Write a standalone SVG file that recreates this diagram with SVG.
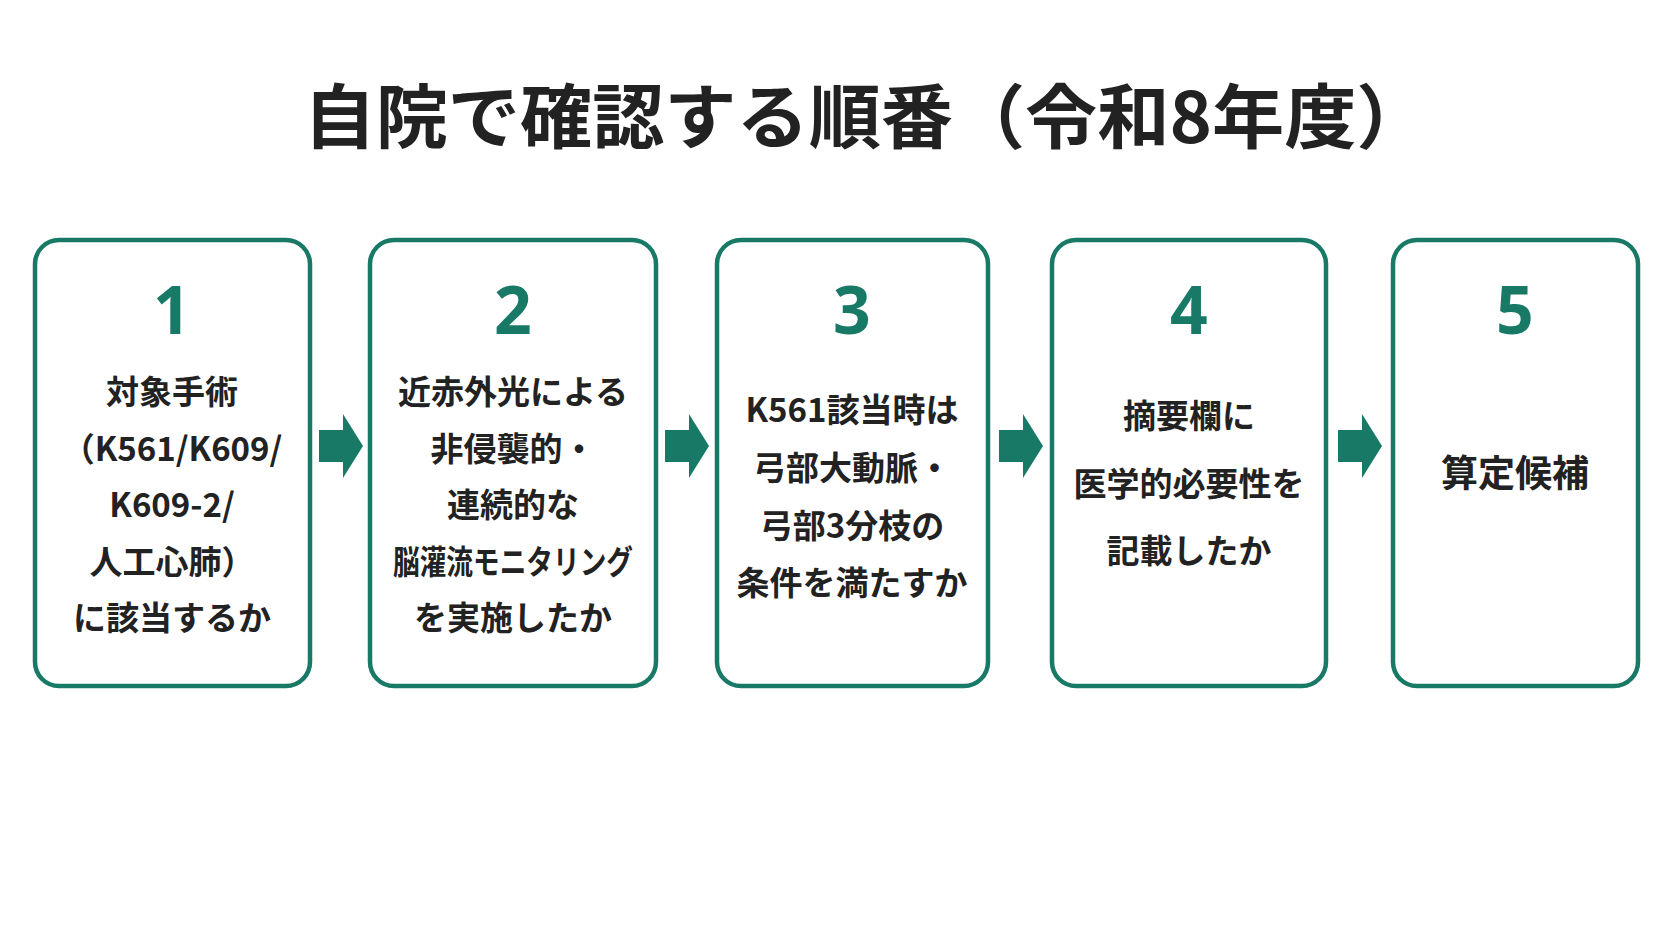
<svg xmlns="http://www.w3.org/2000/svg" width="1672" height="941" viewBox="0 0 1672 941">
<style>
.box{fill:#fff;stroke:#187a66;stroke-width:4.5}
.num{font-family:"Noto Sans","Noto Sans CJK JP",sans-serif;font-weight:700;font-size:66px;fill:#187a66;text-anchor:middle}
.t{font-family:"Noto Sans CJK JP",sans-serif;font-weight:700;font-size:33px;fill:#222;text-anchor:middle;dominant-baseline:central}
.ttl{font-family:"Noto Sans CJK JP",sans-serif;font-weight:700;font-size:70px;fill:#222;text-anchor:middle;dominant-baseline:central}
.arr{fill:#187a66}
</style>
<rect width="1672" height="941" fill="#fff"/>
<text class="ttl" x="866" y="112" textLength="1125" lengthAdjust="spacingAndGlyphs">自院で確認する順番（令和8年度）</text>
<g id="connectors">
<path class="arr" d="M319 430h24v-16l20 32-20 32v-16h-24z"/>
<path class="arr" d="M665 430h24v-16l20 32-20 32v-16h-24z"/>
<path class="arr" d="M999 430h24v-16l20 32-20 32v-16h-24z"/>
<path class="arr" d="M1338 430h24v-16l20 32-20 32v-16h-24z"/>
</g>
<g id="n1"><rect class="box" x="35" y="240" width="275" height="446" rx="24"/>
<text class="num" x="172" y="334">1</text>
<text class="t" x="172" y="390">対象手術</text><text class="t" x="172" y="447">（K561/K609/</text><text class="t" x="172" y="503">K609-2/</text><text class="t" x="172" y="560">人工心肺）</text><text class="t" x="172" y="616">に該当するか</text></g>
<g id="n2"><rect class="box" x="370" y="240" width="286" height="446" rx="24"/>
<text class="num" x="513" y="334">2</text>
<text class="t" x="513" y="390">近赤外光による</text><text class="t" x="513" y="447">非侵襲的・</text><text class="t" x="513" y="503">連続的な</text><text class="t" x="513" y="560" textLength="240" lengthAdjust="spacingAndGlyphs">脳灌流モニタリング</text><text class="t" x="513" y="616">を実施したか</text></g>
<g id="n3"><rect class="box" x="717" y="240" width="271" height="446" rx="24"/>
<text class="num" x="852" y="334">3</text>
<text class="t" x="852" y="408">K561該当時は</text><text class="t" x="852" y="466">弓部大動脈・</text><text class="t" x="852" y="524">弓部3分枝の</text><text class="t" x="852" y="581">条件を満たすか</text></g>
<g id="n4"><rect class="box" x="1052" y="240" width="274" height="446" rx="24"/>
<text class="num" x="1189" y="334">4</text>
<text class="t" x="1189" y="414">摘要欄に</text><text class="t" x="1189" y="482">医学的必要性を</text><text class="t" x="1189" y="549">記載したか</text></g>
<g id="n5"><rect class="box" x="1393" y="240" width="245" height="446" rx="24"/>
<text class="num" x="1515" y="334">5</text>
<text class="t" x="1515" y="471" style="font-size:37px">算定候補</text></g>
</svg>
